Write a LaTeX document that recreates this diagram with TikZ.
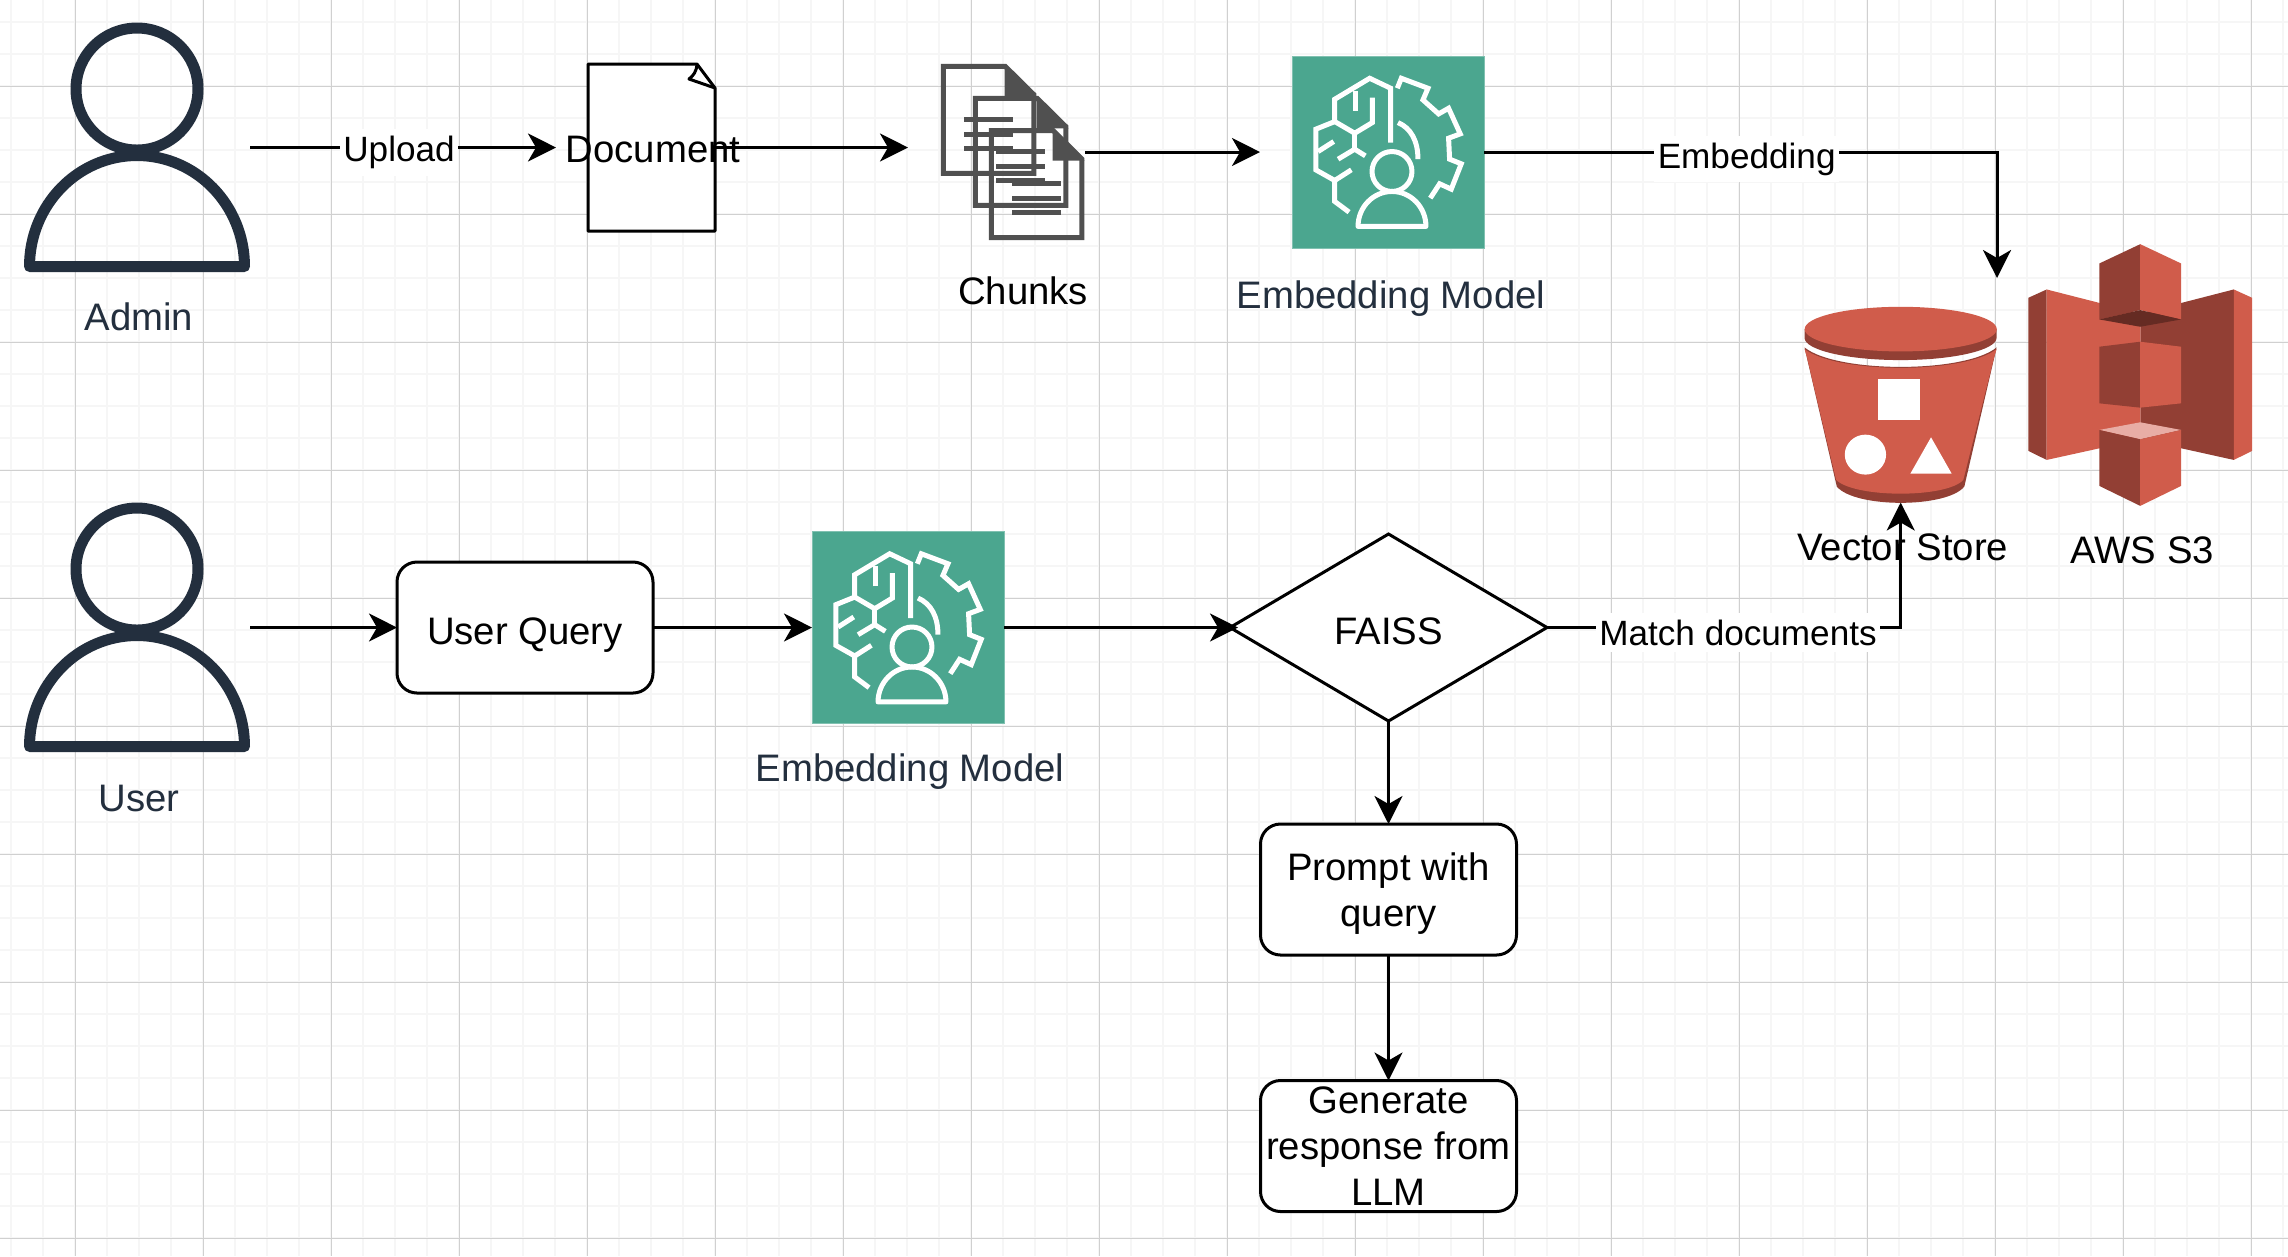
\documentclass[tikz,border=0pt]{standalone}
\usepackage{fontspec}
\setmainfont{Liberation Sans}
\usetikzlibrary{arrows.meta,positioning,shapes.geometric}
\definecolor{inkdark}{RGB}{35,47,62}
\definecolor{teal}{RGB}{75,166,143}
\definecolor{docgray}{RGB}{80,80,80}
\definecolor{awslight}{RGB}{208,92,75}
\definecolor{awsdark}{RGB}{146,63,52}
\definecolor{awsdeep}{RGB}{101,43,35}
\definecolor{awspale}{RGB}{232,173,165}
\definecolor{gridmajor}{RGB}{208,208,208}
\definecolor{gridminor}{RGB}{246,246,246}
\tikzset{
  lbl/.style={font=\fontsize{10.9}{13.1}\selectfont, inner sep=0pt, outer sep=0pt, align=center},
  lbldark/.style={lbl, text=inkdark},
  edgelbl/.style={lbl, font=\fontsize{10}{12}\selectfont, fill=white, inner ysep=2pt, inner xsep=1pt, yshift=-0.5mm},
  flowbox/.style={lbl, rectangle, rounded corners=2mm, draw=black, line width=0.3mm,
                  fill=white, minimum width=25.6mm, minimum height=13.1mm},
  decision/.style={lbl, diamond, draw=black, line width=0.3mm, fill=white,
                   minimum width=31.7mm, minimum height=18.7mm},
  iconbox/.style={rectangle, inner sep=0pt, outer sep=0pt},
  modelbox/.style={iconbox, fill=teal, draw=teal!70!white, line width=0.1mm,
                   minimum width=19.2mm, minimum height=19.2mm},
  arr/.style={-{Stealth[length=2.8mm,width=2.8mm,inset=0.8mm]}, line width=0.3mm, color=black},
  personline/.style={draw=inkdark, line width=1.1mm, line join=round},
  iconline/.style={draw=white, line width=0.5mm},
  chunkline/.style={draw=docgray, line width=0.5mm},
  pics/personicon/.style={code={
    \draw[personline] (0,-58.5) circle[radius=61];
    \draw[personline] (-107.5,119) arc[start angle=180,end angle=360,x radius=107.5,y radius=111] -- cycle;
  }},
  pics/pageicon/.style={code={
    \draw[fill=white, line width=0.3mm, line join=round] (-63.5,-83.5) -- (45.5,-83.5) -- (63.5,-59.5) -- (63.5,83.5) -- (-63.5,83.5) -- cycle;
    \draw[line width=0.3mm, line join=round] (45.5,-83.5) .. controls (45,-76) and (42,-72) .. (37.5,-68.5) -- (63.5,-59.5);
  }},
  pics/chunkpage/.style={code={
    \draw[chunkline, miter limit=2] (99,50) -- (285,50) -- (371,135) -- (371,371) -- (99,371) -- cycle;
    \fill[docgray] (283,46) -- (379,140) -- (283,140) -- cycle;
    \foreach \ly in {210,253,296} \draw[chunkline] (162,\ly) -- (308,\ly);
  }},
  pics/chunkicon/.style={code={
    \begin{scope}[x=0.0333mm,y=-0.0333mm,shift={(-308,-307)}]
      \pic at (0,0) {chunkpage};
      \pic at (96,96) {chunkpage};
      \pic at (144,193) {chunkpage};
    \end{scope}
  }},
  pics/modelicon/.style={code={
    \begin{scope}[x=0.0333mm,y=-0.0333mm,shift={(-355,-306.5)}]
      \draw[iconline] (363,278) -- (363,115) -- (300,85) -- (195,148) -- (195,215) -- (255,250) -- (308,218) -- (308,143);
      \draw[iconline] (258,183) -- (258,122);
      \draw[iconline] (195,215) -- (138,238) -- (138,360) -- (195,392) -- (195,455) -- (238,487);
      \draw[iconline] (145,305) -- (192,275);
      \draw[iconline] (195,392) -- (245,360);
      \draw[iconline] (255,250) -- (255,298);
      \draw[iconline] (205,328) -- (255,298) -- (287,318);
      \draw[iconline] (383,115) -- (395,85) -- (475,115) -- (460,150) -- (507,192) -- (537,175) -- (572,252) -- (537,265) -- (540,328) -- (575,342) -- (545,418) -- (510,402) -- (482,445);
      \draw[iconline] (385,218) .. controls (425,235) and (445,275) .. (445,328);
      \draw[iconline] (367,365) circle[radius=60];
      \draw[iconline, line join=round] (265,530) arc[start angle=180,end angle=360,x radius=102,y radius=105] -- cycle;
    \end{scope}
  }},
  pics/bucketicon/.style={code={
    \begin{scope}[x=0.0333mm,y=-0.0333mm,shift={(-362,-523.5)}]
      \fill[awsdark] (73,352) .. controls (170,430) and (555,430) .. (650,352) -- (553,770)
        .. controls (500,835) and (225,835) .. (170,770) -- cycle;
      \fill[awslight] (73,357) .. controls (170,432) and (555,432) .. (650,357) -- (643,380) -- (550,750)
        .. controls (500,805) and (225,805) .. (168,750) -- (80,380) -- cycle;
      \fill[awsdark] (73,297) -- (73,323) arc[start angle=180,end angle=0,x radius=288.5,y radius=67] -- (650,297) -- cycle;
      \fill[awslight] (362,297) ellipse[x radius=288.5,y radius=67];
      \fill[white] (294,448) rectangle (419,570);
      \fill[white] (256,674) ellipse[x radius=62,y radius=60];
      \fill[white] (453,622) -- (515,731) -- (391,731) -- cycle;
    \end{scope}
  }},
  pics/s3icon/.style={code={
    \begin{scope}[x=0.0333mm,y=-0.0333mm,shift={(-1081,-435)}]
      \fill[awsdark] (745,203) -- (800,178) -- (800,690) -- (745,663) -- cycle;
      \fill[awslight] (800,178) -- (1082,250) -- (1082,628) -- (800,690) -- cycle;
      \fill[awsdark] (1082,250) -- (1362,178) -- (1362,690) -- (1082,628) -- cycle;
      \fill[awslight] (1362,178) -- (1417,203) -- (1417,663) -- (1362,690) -- cycle;
      % top block
      \fill[awsdark] (958,100) -- (1081,42) -- (1081,240) -- (958,268) -- cycle;
      \fill[awslight] (1081,42) -- (1204,100) -- (1204,268) -- (1081,240) -- cycle;
      \fill[awsdeep] (958,268) -- (1081,240) -- (1204,268) -- (1081,290) -- cycle;
      % middle block
      \fill[awsdark] (958,350) -- (1081,335) -- (1081,533) -- (958,520) -- cycle;
      \fill[awslight] (1081,335) -- (1204,350) -- (1204,520) -- (1081,533) -- cycle;
      % bottom block
      \fill[awspale] (958,600) -- (1081,577) -- (1204,600) -- (1081,628) -- cycle;
      \fill[awsdark] (958,600) -- (1081,628) -- (1081,828) -- (958,768) -- cycle;
      \fill[awslight] (1081,628) -- (1204,600) -- (1204,768) -- (1081,828) -- cycle;
    \end{scope}
  }},
}
\begin{document}
\begin{tikzpicture}[x=0.1mm,y=-0.1mm]
  \useasboundingbox (0,0) rectangle (2288,1256);
  \fill[white] (0,0) rectangle (2288,1256);

  % ---- drawing grid ----
  \foreach \i in {0,...,71} \draw[gridminor, line width=0.2mm] ({11+32*\i},0) -- ({11+32*\i},1256);
  \foreach \i in {0,...,39} \draw[gridminor, line width=0.2mm] (0,{22+32*\i}) -- (2288,{22+32*\i});
  \foreach \i in {0,...,17} \draw[gridmajor, line width=0.1mm] ({75+128*\i},0) -- ({75+128*\i},1256);
  \foreach \i in {0,...,9} \draw[gridmajor, line width=0.1mm] (0,{86+128*\i}) -- (2288,{86+128*\i});

  % ---- ingest row ----
  \node[iconbox, minimum width=22.6mm, minimum height=25mm] (admin) at (137,147.5) {};
  \pic at (admin) {personicon};
  \node[lbldark, below=3.05mm of admin, xshift=0.2mm] (adminlbl) {Admin};
  \node[iconbox, minimum width=12.7mm, minimum height=16.7mm, right=33.8mm of admin] (doc) {};
  \pic at (doc) {pageicon};
  \node[lbl, xshift=0.15mm, yshift=-0.15mm] (doclbl) at (doc) {Document};
  \coordinate[left=3.2mm of doc] (docin);
  \coordinate[right=19.3mm of doc] (chunksin);
  \node[iconbox, minimum width=14.4mm, minimum height=17.6mm, right=3.3mm of chunksin, yshift=-0.45mm] (chunks) {};
  \pic at (chunks) {chunkicon};
  \node[lbl, below=3.7mm of chunks, xshift=1mm] (chunkslbl) {Chunks};
  \node[modelbox, right=20.7mm of chunks] (model) {};
  \pic at (model) {modelicon};
  \node[lbldark, below=3.3mm of model, xshift=0.3mm] (modellbl) {Embedding Model};
  \coordinate[left=3.2mm of model] (modelin);

  % ---- stores ----
  \node[iconbox, minimum width=19.3mm, minimum height=19.6mm] (bucket) at (1900.7,404.5) {};
  \pic at (bucket) {bucketicon};
  \node[lbl, below=3.1mm of bucket, xshift=0.2mm] (bucketlbl) {Vector Store};
  \node[iconbox, minimum width=22.4mm, minimum height=26.2mm, right=3.1mm of bucket, yshift=2.95mm] (s3) {};
  \pic at (s3) {s3icon};
  \node[lbl, below=3.1mm of s3, xshift=0.2mm] (s3lbl) {AWS S3};
  \coordinate (s3in) at (1997,278);

  % ---- query row ----
  \node[iconbox, minimum width=22.6mm, minimum height=25mm, below=23mm of admin] (user) {};
  \pic at (user) {personicon};
  \node[lbldark, below=3.3mm of user, xshift=0.2mm] (userlbl) {User};
  \node[flowbox, text height=9.6pt, text depth=0pt, right=14.7mm of user] (query) {User Query};
  \node[modelbox, right=15.9mm of query] (modelb) {};
  \pic at (modelb) {modelicon};
  \node[lbldark, below=3.05mm of modelb, xshift=0.2mm] (modelblbl) {Embedding Model};
  \node[decision, text height=9.6pt, text depth=0pt, right=22.6mm of modelb] (faiss) {FAISS};
  \node[flowbox, text depth=0pt, below=10.3mm of faiss] (prompt) {Prompt with\\query};
  \node[flowbox, text depth=0pt, below=12.55mm of prompt] (answer) {Generate\\response from\\LLM};

  \draw[arr] (admin.east) -- (docin) node[edgelbl, pos=0.487] (uploadlbl) {Upload};
  \draw[arr] (doc.east) -- (chunksin);
  \draw[arr] (chunks.east) -- (modelin);
  \draw[arr] (model.east) -| (s3in) node[edgelbl, pos=0.256, yshift=-0.2mm] (embedlbl) {Embedding};
  \draw[arr] (user.east) -- (query.west);
  \draw[arr] (query.east) -- (modelb.west);
  \draw[arr, shorten >=-0.8mm] (modelb.east) -- (faiss.west);
  \draw[arr] (faiss.east) -| (bucket.south) node[edgelbl, pos=0.27] (matchlbl) {Match documents};
  \draw[arr] (faiss.south) -- (prompt.north);
  \draw[arr] (prompt.south) -- (answer.north);
\end{tikzpicture}
\end{document}
